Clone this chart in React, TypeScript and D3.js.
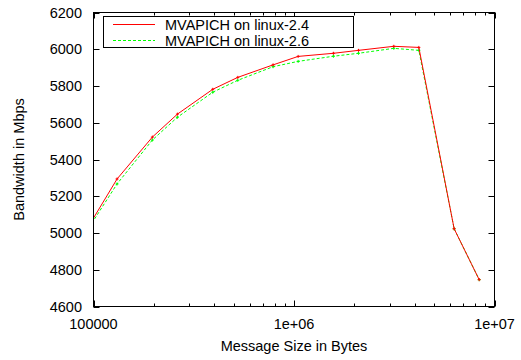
import React from 'react';
import * as d3 from 'd3';

const sizes = [65536, 131072, 196608, 262144, 393216, 524288, 786432, 1048576, 1572864, 2097152, 3145728, 4194304, 6291456, 8388608];
const linux24 = [4749, 5294, 5522, 5647, 5782, 5847, 5915, 5961, 5978, 5994, 6016, 6010, 5023, 4746];
const linux26 = [4756, 5267, 5506, 5630, 5766, 5831, 5905, 5934, 5962, 5978, 6005, 5994, 5023, 4746];
const seriesNames = ['MVAPICH on linux-2.4', 'MVAPICH on linux-2.6'];
const yTicks = [4600, 4800, 5000, 5200, 5400, 5600, 5800, 6000, 6200];
const xTicks = [1e5, 1e6, 1e7];
const xTickLabels = ['100000', '1e+06', '1e+07'];

const W = 521, H = 360;
const L = 93.5, R = 494.5, T = 12.5, B = 306.5;
const font = '"Liberation Sans", Arial, Helvetica, sans-serif';

export default function App() {
  const x = d3.scaleLog().domain([1e5, 1e7]).range([L, R]);
  const y = d3.scaleLinear().domain([4600, 6200]).range([B, T]);
  const line = d3.line<number>().x((_, i) => x(sizes[i])).y(d => y(d));
  const minor: number[] = [];
  for (const dec of [1e5, 1e6]) for (let k = 2; k <= 9; k++) minor.push(dec * k);
  const series = [
    { data: linux26, color: '#00ff00', dash: '3,2' },
    { data: linux24, color: '#ff0000', dash: undefined as string | undefined },
  ];
  return (
    <svg width={W} height={H} style={{ position: 'absolute', left: 0, top: 0, background: '#fff' }} fontFamily={font}>
      <defs>
        <clipPath id="plot"><rect x={L} y={T} width={R - L} height={B - T} /></clipPath>
      </defs>
      {yTicks.map(t => (
        <g key={'y' + t}>
          <line x1={L} x2={L + 6} y1={Math.round(y(t)) + 0.5} y2={Math.round(y(t)) + 0.5} stroke="#000" />
          <line x1={R} x2={R - 6} y1={Math.round(y(t)) + 0.5} y2={Math.round(y(t)) + 0.5} stroke="#000" />
          <text x={82} y={y(t)} dy="0.36em" textAnchor="end" fontSize={14.5}>{t}</text>
        </g>
      ))}
      {xTicks.map((t, i) => (
        <g key={'x' + t}>
          <line x1={Math.round(x(t)) + 0.5} x2={Math.round(x(t)) + 0.5} y1={B} y2={B - 6} stroke="#000" />
          <line x1={Math.round(x(t)) + 0.5} x2={Math.round(x(t)) + 0.5} y1={T} y2={T + 6} stroke="#000" />
          <text x={x(t)} y={328.5} textAnchor="middle" fontSize={14.5}>{xTickLabels[i]}</text>
        </g>
      ))}
      {minor.map(t => (
        <g key={'m' + t}>
          <line x1={Math.round(x(t)) + 0.5} x2={Math.round(x(t)) + 0.5} y1={B} y2={B - 3} stroke="#000" />
          <line x1={Math.round(x(t)) + 0.5} x2={Math.round(x(t)) + 0.5} y1={T} y2={T + 3} stroke="#000" />
        </g>
      ))}
      <g clipPath="url(#plot)">
        {series.map((s, si) => (
          <g key={si}>
            <path d={line(s.data) || ''} fill="none" stroke={s.color} strokeWidth={1} strokeDasharray={s.dash} />
            {s.data.map((v, i) => (
              <path key={i} d={`M${x(sizes[i]) - 1.5},${y(v)}h3M${x(sizes[i])},${y(v) - 1.5}v3`} stroke={s.color} strokeWidth={1} />
            ))}
          </g>
        ))}
      </g>
      <rect x={L} y={T} width={R - L} height={B - T} fill="none" stroke="#000" strokeWidth={1} />
      <rect x={103.5} y={16.5} width={250} height={31} fill="#fff" stroke="#000" strokeWidth={1} />
      <line x1={113} x2={155} y1={24.5} y2={24.5} stroke="#ff0000" />
      <line x1={113} x2={155} y1={40.5} y2={40.5} stroke="#00ff00" strokeDasharray="3,2" />
      <text x={165} y={24.5} dy="0.36em" fontSize={14.5}>{seriesNames[0]}</text>
      <text x={165} y={40.5} dy="0.36em" fontSize={14.5}>{seriesNames[1]}</text>
      <text x={(L + R) / 2} y={351} textAnchor="middle" fontSize={14.5}>Message Size in Bytes</text>
      <text transform={`translate(24,${(T + B) / 2}) rotate(-90)`} textAnchor="middle" fontSize={14.5}>Bandwidth in Mbps</text>
    </svg>
  );
}
